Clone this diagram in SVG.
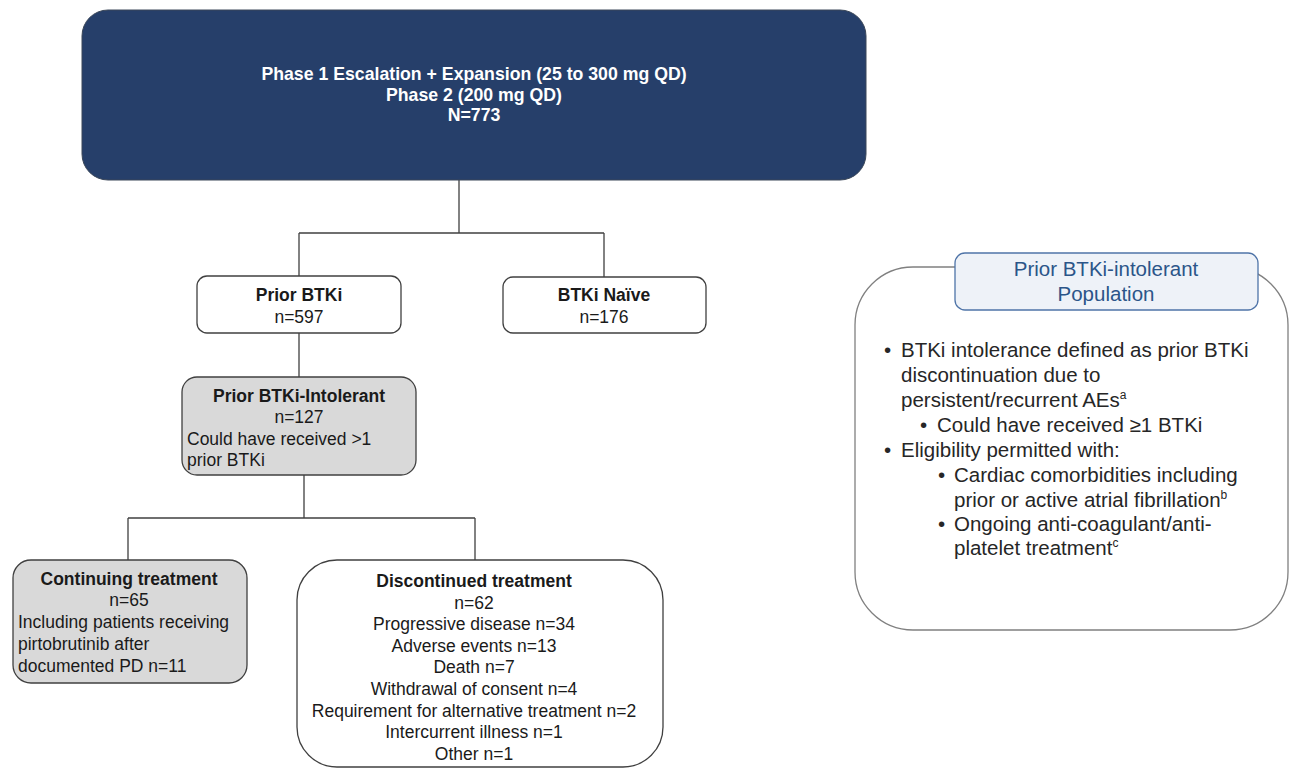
<svg xmlns="http://www.w3.org/2000/svg" width="1291" height="769" viewBox="0 0 1291 769">
<style>
text{font-family:"Liberation Sans",Arial,sans-serif;fill:#1a1a1a}
.b{font-weight:bold}
.n{font-size:17.5px}
.c{text-anchor:middle}
.box{fill:#ffffff;stroke:#404040;stroke-width:1.3}
.gray{fill:#d9d9d9;stroke:#404040;stroke-width:1.3}
.conn{fill:none;stroke:#404040;stroke-width:1.3}
.top{fill:#ffffff;font-size:17.7px;font-weight:bold}
.rp{font-size:20.5px;fill:#262626}
.sup{font-size:12px}
</style>
<rect width="1291" height="769" fill="#ffffff"/>
<g id="connectors">
<path class="conn" d="M459 180V233M299 233H604M299 233V276M604 233V277M299 333V377M304 475V518M128 518H475M128 518V560M475 518V560"/>
</g>
<g id="node-phase">
<rect x="82" y="10" width="784" height="170" rx="26" fill="#263f6a" stroke="#3a4658" stroke-width="1"/>
<text class="top c" x="474" y="80">Phase 1 Escalation + Expansion (25 to 300 mg QD)</text>
<text class="top c" x="474" y="101">Phase 2 (200 mg QD)</text>
<text class="top c" x="474" y="121">N=773</text>
</g>
<g id="node-prior">
<rect class="box" x="197" y="276" width="204" height="57" rx="10"/>
<text class="n b c" x="299" y="301">Prior BTKi</text>
<text class="n c" x="299" y="323">n=597</text>
</g>
<g id="node-naive">
<rect class="box" x="503" y="277" width="203" height="56" rx="10"/>
<text class="n b c" x="604" y="301">BTKi Naïve</text>
<text class="n c" x="604" y="323">n=176</text>
</g>
<g id="node-intolerant">
<rect class="gray" x="182" y="377" width="234" height="98" rx="15"/>
<text class="n b c" x="299" y="402">Prior BTKi-Intolerant</text>
<text class="n c" x="299" y="423">n=127</text>
<text class="n" x="187" y="445">Could have received &gt;1</text>
<text class="n" x="187" y="466">prior BTKi</text>
</g>
<g id="node-continuing">
<rect class="gray" x="13" y="560" width="234" height="123" rx="18"/>
<text class="n b c" x="129" y="585">Continuing treatment</text>
<text class="n c" x="129" y="606">n=65</text>
<text class="n" x="18" y="628">Including patients receiving</text>
<text class="n" x="18" y="650">pirtobrutinib after</text>
<text class="n" x="18" y="672">documented PD n=11</text>
</g>
<g id="node-discontinued">
<rect class="box" x="297" y="560" width="366" height="207" rx="40"/>
<text class="n b c" x="474" y="587">Discontinued treatment</text>
<text class="n c" x="474" y="609">n=62</text>
<text class="n c" x="474" y="630">Progressive disease n=34</text>
<text class="n c" x="474" y="652">Adverse events n=13</text>
<text class="n c" x="474" y="673">Death n=7</text>
<text class="n c" x="474" y="695">Withdrawal of consent n=4</text>
<text class="n c" x="474" y="717">Requirement for alternative treatment n=2</text>
<text class="n c" x="474" y="738">Intercurrent illness n=1</text>
<text class="n c" x="474" y="760">Other n=1</text>
</g>
<g id="panel-population">
<rect x="855" y="267" width="433" height="363" rx="58" fill="#ffffff" stroke="#808080" stroke-width="1.3"/>
<rect x="955" y="253" width="303" height="57" rx="10" fill="#eef2f8" stroke="#4f74a8" stroke-width="1.3"/>
<text class="rp c" x="1106" y="276" style="fill:#2b5589">Prior BTKi-intolerant</text>
<text class="rp c" x="1106" y="301" style="fill:#2b5589">Population</text>
<text class="rp" x="886">
<tspan x="884" y="357">•</tspan><tspan x="901" y="357">BTKi intolerance defined as prior BTKi</tspan>
<tspan x="901" y="382">discontinuation due to</tspan>
<tspan x="901" y="407">persistent/recurrent AEs</tspan><tspan class="sup" dy="-8">a</tspan>
<tspan x="920" y="432">•</tspan><tspan x="937" y="432">Could have received ≥1 BTKi</tspan>
<tspan x="884" y="457">•</tspan><tspan x="901" y="457">Eligibility permitted with:</tspan>
<tspan x="938" y="482">•</tspan><tspan x="954" y="482">Cardiac comorbidities including</tspan>
<tspan x="954" y="507">prior or active atrial fibrillation</tspan><tspan class="sup" dy="-8">b</tspan>
<tspan x="938" y="531">•</tspan><tspan x="954" y="531">Ongoing anti-coagulant/anti-</tspan>
<tspan x="954" y="555">platelet treatment</tspan><tspan class="sup" dy="-8">c</tspan>
</text>
</g>
</svg>
